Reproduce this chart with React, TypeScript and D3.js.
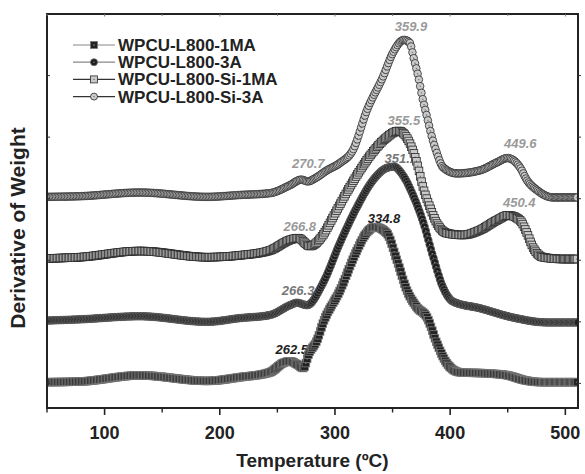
import React, { useEffect, useRef } from 'react';
import * as d3 from 'd3';

// ---------- data (temperature °C, derivative of weight in stacked units) ----------
const seriesNames = ['WPCU-L800-1MA', 'WPCU-L800-3A', 'WPCU-L800-Si-1MA', 'WPCU-L800-Si-3A'];

const temp1MA = [50, 78.6, 130.7, 188.9, 217.5, 243.6, 254.9, 261, 267, 272.5, 277.5, 284.4, 289.6, 304.3, 319, 326, 334.8, 345, 353.8, 362.5, 371, 380, 388.5, 397, 408.5, 434.5, 450, 465, 480, 511];
const val1MA = [0.02, 0.03, 0.13, 0.04, 0.10, 0.18, 0.33, 0.36, 0.31, 0.25, 0.49, 0.70, 0.98, 1.51, 2.16, 2.41, 2.54, 2.44, 2.00, 1.51, 1.24, 1.07, 0.65, 0.33, 0.18, 0.16, 0.13, 0.05, 0.02, 0.02];

const temp3A = [50, 78.6, 130.7, 188.9, 217.5, 243.6, 261, 267, 275.7, 289.6, 304.3, 319, 333, 345, 351.1, 359, 367.7, 376.4, 385, 393.8, 402.4, 425.9, 454.5, 484, 511];
const val3A = [1.02, 1.04, 1.09, 1.00, 1.06, 1.11, 1.27, 1.31, 1.27, 1.63, 2.28, 2.86, 3.30, 3.50, 3.52, 3.38, 3.06, 2.63, 2.07, 1.56, 1.33, 1.22, 1.07, 0.99, 0.99];

const tempSi1MA = [50, 78.6, 130.7, 188.9, 217.5, 243.6, 261, 268, 278.3, 289.6, 298.3, 310.4, 321.7, 333, 343.4, 355.5, 365, 371.2, 376.4, 382.5, 388.5, 397.2, 411, 425.9, 440.6, 450.4, 460.6, 466.7, 471.9, 480.6, 497.9, 511];
const valSi1MA = [2.03, 2.05, 2.15, 2.05, 2.08, 2.16, 2.33, 2.36, 2.23, 2.41, 2.70, 3.11, 3.46, 3.76, 3.97, 4.10, 3.90, 3.58, 3.19, 2.86, 2.60, 2.44, 2.41, 2.49, 2.65, 2.73, 2.65, 2.44, 2.21, 2.05, 2.02, 2.02];

const tempSi3A = [50, 78.6, 130.7, 188.9, 217.5, 243.6, 261, 270.7, 276.5, 282.6, 293, 304.3, 315.6, 327.8, 341.7, 350.3, 359.9, 365, 368.4, 372, 376.4, 379.9, 384.2, 388.5, 393.8, 405.9, 425.9, 440.6, 449.6, 460.6, 466.7, 475.3, 489.2, 511];
const valSi3A = [3.03, 3.04, 3.10, 3.03, 3.06, 3.09, 3.22, 3.31, 3.28, 3.33, 3.46, 3.58, 3.79, 4.44, 4.98, 5.37, 5.58, 5.53, 5.28, 5.01, 4.60, 4.33, 4.00, 3.74, 3.51, 3.41, 3.46, 3.59, 3.66, 3.51, 3.30, 3.14, 3.02, 3.02];

const xTicksMajor = [100, 200, 300, 400, 500];
const xTicksMinor = [50, 150, 250, 350, 450];
const yTicks = [0, 1, 2, 3, 4, 5];

// peak annotations: label text, temperature, series index
const peakTexts = ['359.9', '449.6', '270.7', '355.5', '450.4', '266.8', '351.1', '266.3', '334.8', '262.5'];
const peakTemps = [359.9, 449.6, 270.7, 355.5, 450.4, 266.8, 351.1, 266.3, 334.8, 262.5];
const peakSeries = [3, 3, 3, 2, 2, 2, 1, 1, 0, 0];

// ---------- styling ----------
const W = 585, H = 474;
const M = { left: 47, top: 14, right: 578, bottom: 408 };
const labelOffsets: [number, number][] = [[7, -9], [13, -10], [7, -12], [5, -6], [11, -8], [3, -7], [7, -4], [2, -8], [9, -4], [0, -8]];
const labelColors = ['#9a9a9a', '#9a9a9a', '#9a9a9a', '#9a9a9a', '#9a9a9a', '#9a9a9a', '#777', '#777', '#222', '#222'];

type Style = { shape: 'square' | 'circle'; fill: string; stroke: string; dot: string; legendLine: string };
const styles: Style[] = [
  { shape: 'square', fill: '#222', stroke: '#7a7a7a', dot: '#aaa', legendLine: '#888' },
  { shape: 'circle', fill: '#1e1e1e', stroke: '#666', dot: '#999', legendLine: '#888' },
  { shape: 'square', fill: '#c9c9c9', stroke: '#2a2a2a', dot: '#666', legendLine: '#333' },
  { shape: 'circle', fill: '#cacaca', stroke: '#2a2a2a', dot: '#666', legendLine: '#333' },
];

const FONT = 'Liberation Sans, Arial, Helvetica, sans-serif';

export default function App() {
  const ref = useRef<SVGSVGElement | null>(null);

  useEffect(() => {
    const svg = d3.select(ref.current);
    svg.selectAll('*').remove();

    const x = d3.scaleLinear().domain([50, 511]).range([M.left, M.right]);
    const y = d3.scaleLinear().domain([-0.4, 6]).range([M.bottom, M.top]);

    const temps = [temp1MA, temp3A, tempSi1MA, tempSi3A];
    const vals = [val1MA, val3A, valSi1MA, valSi3A];

    svg.append('defs').append('clipPath').attr('id', 'plotclip')
      .append('rect').attr('x', M.left).attr('y', M.top)
      .attr('width', M.right - M.left).attr('height', M.bottom - M.top);

    // peak labels (beneath curves)
    const lblG = svg.append('g');
    peakTexts.forEach((t, i) => {
      const si = peakSeries[i];
      const interp = d3.scaleLinear().domain(temps[si]).range(vals[si]);
      const px = x(peakTemps[i]) + labelOffsets[i][0];
      const py = y(interp(peakTemps[i])) + labelOffsets[i][1];
      lblG.append('text').attr('x', px).attr('y', py).attr('text-anchor', 'middle')
        .attr('font-family', FONT).attr('font-size', 13).attr('font-weight', 'bold')
        .attr('font-style', 'italic').attr('fill', labelColors[i]).text(t);
    });

    const line = d3.line<[number, number]>().x(d => x(d[0])).y(d => y(d[1])).curve(d3.curveMonotoneX);

    const drawMarker = (g: any, cx: number, cy: number, st: Style, size = 7.6) => {
      const h = size / 2;
      if (st.shape === 'square') {
        g.append('rect').attr('x', cx - h).attr('y', cy - h).attr('width', size).attr('height', size)
          .attr('fill', st.fill).attr('stroke', st.stroke).attr('stroke-width', 0.8);
      } else {
        g.append('circle').attr('cx', cx).attr('cy', cy).attr('r', h)
          .attr('fill', st.fill).attr('stroke', st.stroke).attr('stroke-width', 0.8);
      }
      g.append('circle').attr('cx', cx).attr('cy', cy).attr('r', 0.7).attr('fill', st.dot);
    };

    const plotG = svg.append('g').attr('clip-path', 'url(#plotclip)');
    temps.forEach((tt, si) => {
      const data: [number, number][] = tt.map((t, k) => [t, vals[si][k]]);
      const sg = plotG.append('g');
      const p = sg.append('path').attr('d', line(data) as string).attr('fill', 'none')
        .attr('stroke', '#333').attr('stroke-width', 0.8);
      const node = p.node() as SVGPathElement;
      const L = node.getTotalLength();
      let lastX = -Infinity;
      const DX = 1.25;
      for (let s = 0; s <= L; s += 0.25) {
        const pt = node.getPointAtLength(s);
        if (pt.x - lastX >= DX) {
          drawMarker(sg, pt.x, pt.y, styles[si]);
          lastX = pt.x;
        }
      }
    });

    // frame
    svg.append('rect').attr('x', M.left).attr('y', M.top).attr('width', M.right - M.left)
      .attr('height', M.bottom - M.top).attr('fill', 'none').attr('stroke', '#222').attr('stroke-width', 2);

    // bottom ticks
    xTicksMajor.forEach(v => {
      svg.append('line').attr('x1', x(v)).attr('x2', x(v)).attr('y1', M.bottom).attr('y2', M.bottom + 7)
        .attr('stroke', '#222').attr('stroke-width', 1.6);
      svg.append('line').attr('x1', x(v)).attr('x2', x(v)).attr('y1', M.top).attr('y2', M.top + 2.5)
        .attr('stroke', '#777').attr('stroke-width', 1);
      svg.append('text').attr('x', x(v)).attr('y', 439).attr('text-anchor', 'middle')
        .attr('font-family', FONT).attr('font-size', 18).attr('font-weight', 'bold').attr('fill', '#222').text(String(v));
    });
    xTicksMinor.forEach(v => {
      svg.append('line').attr('x1', x(v)).attr('x2', x(v)).attr('y1', M.bottom).attr('y2', M.bottom + 4.5)
        .attr('stroke', '#222').attr('stroke-width', 1.4);
      svg.append('line').attr('x1', x(v)).attr('x2', x(v)).attr('y1', M.top).attr('y2', M.top + 2)
        .attr('stroke', '#777').attr('stroke-width', 1);
    });
    yTicks.forEach(v => {
      svg.append('line').attr('x1', M.left).attr('x2', M.left + 3).attr('y1', y(v)).attr('y2', y(v))
        .attr('stroke', '#333').attr('stroke-width', 1);
      svg.append('line').attr('x1', M.right).attr('x2', M.right + 3).attr('y1', y(v)).attr('y2', y(v))
        .attr('stroke', '#333').attr('stroke-width', 1);
    });

    // axis titles
    svg.append('text').attr('x', (M.left + M.right) / 2).attr('y', 467).attr('text-anchor', 'middle')
      .attr('font-family', FONT).attr('font-size', 19).attr('font-weight', 'bold').attr('fill', '#222')
      .text('Temperature (ºC)');
    svg.append('text').attr('transform', 'translate(25,228) rotate(-90)').attr('text-anchor', 'middle')
      .attr('font-family', FONT).attr('font-size', 21).attr('font-weight', 'bold').attr('fill', '#222')
      .text('Derivative of Weight');

    // legend
    const lg = svg.append('g');
    seriesNames.forEach((name, i) => {
      const ly = 45 + i * 17.2;
      lg.append('line').attr('x1', 73).attr('x2', 115).attr('y1', ly).attr('y2', ly)
        .attr('stroke', styles[i].legendLine).attr('stroke-width', 1.2);
      drawMarker(lg, 94, ly, styles[i], 7);
      lg.append('text').attr('x', 118).attr('y', ly + 6).attr('font-family', FONT).attr('font-size', 17)
        .attr('font-weight', 'bold').attr('fill', '#222').text(name);
    });
  }, []);

  return (
    <svg ref={ref} width={W} height={H} style={{ position: 'absolute', left: 0, top: 0, background: '#fff' }} />
  );
}
